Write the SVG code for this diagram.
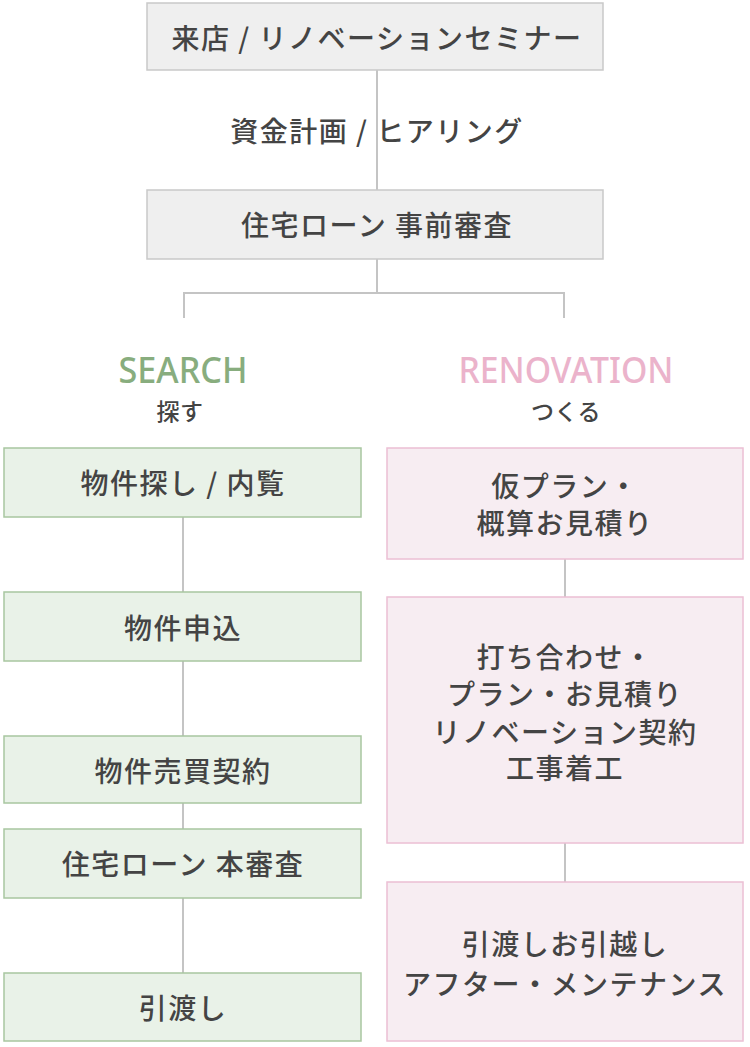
<svg xmlns="http://www.w3.org/2000/svg" width="750" height="1047" viewBox="0 0 750 1047">
<style>
.t{font-family:"Noto Sans CJK JP","Noto Sans",sans-serif;font-size:28px;font-weight:500;fill:#444;text-anchor:middle;dominant-baseline:central;letter-spacing:1.5px}
.s{font-size:23px;letter-spacing:0.5px}
.gray{fill:#efefef;stroke:#c9c9c9;stroke-width:1.5}
.green{fill:#e9f2e8;stroke:#a8c6a0;stroke-width:1.5}
.pink{fill:#f7edf2;stroke:#ecbfd4;stroke-width:1.5}
.ln{stroke:#c4c4c4;stroke-width:2;fill:none}
.h{font-family:"Noto Sans",sans-serif;font-size:36px;font-weight:500;text-anchor:middle}
</style>
<rect width="750" height="1047" fill="#fff"/>
<g id="connectors">
<line class="ln" x1="377" y1="70" x2="377" y2="190"/>
<polyline class="ln" points="377,259 377,293"/>
<polyline class="ln" points="184,318 184,293 564,293 564,318"/>
<line class="ln" x1="183" y1="517" x2="183" y2="592"/>
<line class="ln" x1="183" y1="661" x2="183" y2="736"/>
<line class="ln" x1="183" y1="803" x2="183" y2="829"/>
<line class="ln" x1="183" y1="898" x2="183" y2="973"/>
<line class="ln" x1="565" y1="559" x2="565" y2="597"/>
<line class="ln" x1="565" y1="843" x2="565" y2="882"/>
</g>
<g id="n-visit"><rect class="gray" x="147" y="3" width="456" height="67"/><text class="t" x="377" y="37">来店 / リノベーションセミナー</text></g>
<g id="l-funding"><text class="t" x="377" y="130">資金計画 / ヒアリング</text></g>
<g id="n-preloan"><rect class="gray" x="147" y="190" width="456" height="69"/><text class="t" x="377" y="224">住宅ローン 事前審査</text></g>
<g id="h-search"><text class="h" x="183" y="383" fill="#88ad7e" textLength="129" lengthAdjust="spacingAndGlyphs">SEARCH</text><text class="t s" x="180" y="410">探す</text></g>
<g id="h-renovation"><text class="h" x="566" y="383" fill="#ebb3cb" textLength="215" lengthAdjust="spacingAndGlyphs">RENOVATION</text><text class="t s" x="566" y="410">つくる</text></g>
<g id="n-search1"><rect class="green" x="4" y="448" width="357" height="69"/><text class="t" x="183" y="482">物件探し / 内覧</text></g>
<g id="n-search2"><rect class="green" x="4" y="592" width="357" height="69"/><text class="t" x="183" y="627">物件申込</text></g>
<g id="n-search3"><rect class="green" x="4" y="736" width="357" height="67"/><text class="t" x="183" y="770">物件売買契約</text></g>
<g id="n-search4"><rect class="green" x="4" y="829" width="357" height="69"/><text class="t" x="183" y="863">住宅ローン 本審査</text></g>
<g id="n-search5"><rect class="green" x="4" y="973" width="357" height="68"/><text class="t" x="183" y="1007">引渡し</text></g>
<g id="n-reno1"><rect class="pink" x="387" y="448" width="356" height="111"/><text class="t" x="565" y="485">仮プラン・</text><text class="t" x="565" y="522">概算お見積り</text></g>
<g id="n-reno2"><rect class="pink" x="387" y="597" width="356" height="246"/><text class="t" x="565" y="656">打ち合わせ・</text><text class="t" x="565" y="692.5">プラン・お見積り</text><text class="t" x="565" y="730.5">リノベーション契約</text><text class="t" x="565" y="767">工事着工</text></g>
<g id="n-reno3"><rect class="pink" x="387" y="882" width="356" height="159"/><text class="t" x="565" y="943">引渡しお引越し</text><text class="t" x="565" y="983">アフター・メンテナンス</text></g>
</svg>
